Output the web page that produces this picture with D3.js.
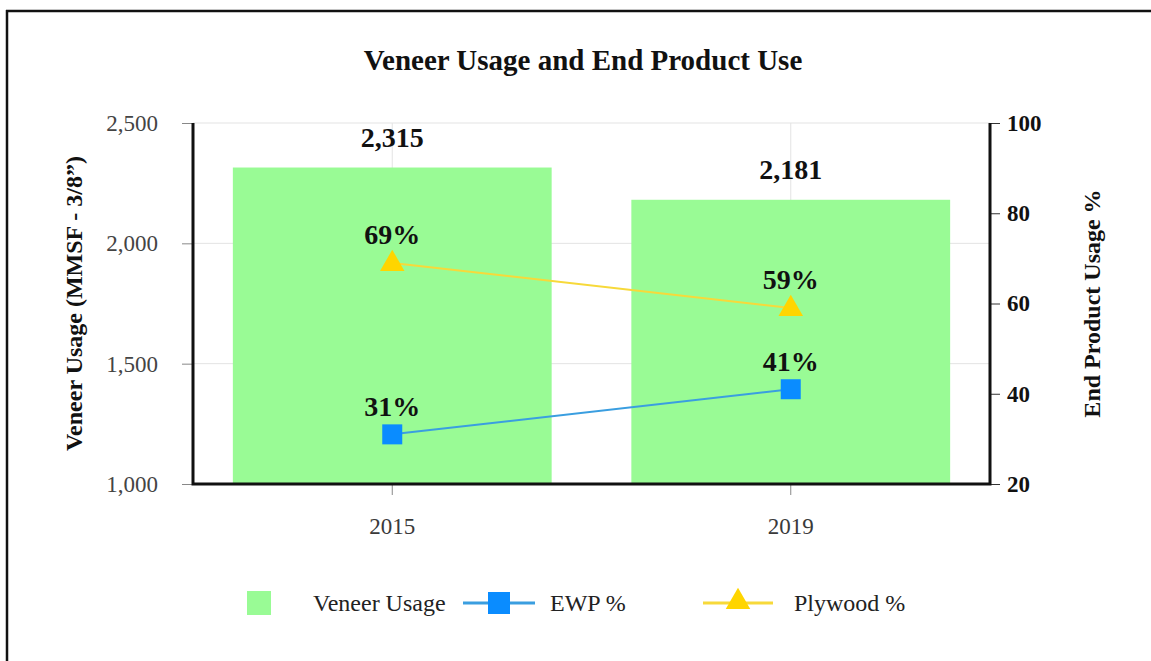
<!DOCTYPE html>
<html>
<head>
<meta charset="utf-8">
<script src="https://cdn.jsdelivr.net/npm/d3@7"></script>
<style>
  body { margin: 0; background: #fff; }
  svg { display: block; font-family: "Liberation Serif", "Times New Roman", serif; }
</style>
</head>
<body>
<svg id="chart" width="1151" height="661"></svg>
<script>
'use strict';

// chart data
var years = ["2015", "2019"];
var veneer_usage = [2315, 2181];
var ewp_pct = [31, 41];
var plywood_pct = [69, 59];

var left_ticks = [1000, 1500, 2000, 2500];
var right_ticks = [20, 40, 60, 80, 100];

var colors = {
    bar: "#99fb95",
    ewp_line: "#3a9ee0",
    ewp_marker: "#0a8cff",
    ply_line: "#f7d93a",
    ply_marker: "#ffd500",
    grid: "#e3e3e3",
    axis: "#111",
    tick: "#888",
};

var width = 1151, height = 661;
var margin = {top: 123, right: 161, bottom: 177, left: 193};

var svg = d3.select("#chart");

// outer frame (only top and left edges show in the original)
svg.append("line").attr("x1", 6).attr("x2", width).attr("y1", 11).attr("y2", 11)
   .attr("stroke", "#111").attr("stroke-width", 2.5);
svg.append("line").attr("x1", 7).attr("x2", 7).attr("y1", 10).attr("y2", height)
   .attr("stroke", "#111").attr("stroke-width", 2.5);

var x0 = margin.left, x1 = width - margin.right;
var y0 = height - margin.bottom, y1 = margin.top;

var x = d3.scaleBand().domain(years).range([x0, x1]).paddingInner(0.2).paddingOuter(0.1);
var yL = d3.scaleLinear().domain([1000, 2500]).range([y0, y1]);
var yR = d3.scaleLinear().domain([20, 100]).range([y0, y1]);

var cx = d => x(d) + x.bandwidth() / 2;

// gridlines
var grid = svg.append("g");
grid.selectAll(".hgrid").data(left_ticks.slice(1)).enter().append("line")
    .attr("x1", x0).attr("x2", x1)
    .attr("y1", d => yL(d)).attr("y2", d => yL(d))
    .attr("stroke", colors.grid).attr("stroke-width", 1);
grid.selectAll(".vgrid").data(years).enter().append("line")
    .attr("x1", cx).attr("x2", cx)
    .attr("y1", y1).attr("y2", y0)
    .attr("stroke", colors.grid).attr("stroke-width", 1);

// bars
svg.selectAll(".bar").data(years).enter().append("rect")
    .attr("x", d => x(d))
    .attr("width", x.bandwidth())
    .attr("y", (d, i) => yL(veneer_usage[i]))
    .attr("height", (d, i) => y0 - yL(veneer_usage[i]))
    .attr("fill", colors.bar);

// left axis
var axL = svg.append("g").attr("transform", "translate(" + x0 + ",0)")
    .call(d3.axisLeft(yL).tickValues(left_ticks).tickFormat(d3.format(",")).tickSize(11).tickPadding(24));
axL.select(".domain").remove();
axL.selectAll(".tick line").attr("stroke", colors.tick);
axL.selectAll(".tick text").attr("font-size", 23).attr("fill", "#444")
    .attr("font-family", "Liberation Serif");

// right axis
var axR = svg.append("g").attr("transform", "translate(" + x1 + ",0)")
    .call(d3.axisRight(yR).tickValues(right_ticks).tickSize(10).tickPadding(7));
axR.select(".domain").remove();
axR.selectAll(".tick line").attr("stroke", "#333");
axR.selectAll(".tick text").attr("font-size", 23).attr("font-weight", "bold").attr("fill", "#111")
    .attr("font-family", "Liberation Serif");

// bottom axis
var axB = svg.append("g").attr("transform", "translate(0," + y0 + ")")
    .call(d3.axisBottom(x).tickSize(11).tickPadding(23));
axB.select(".domain").remove();
axB.selectAll(".tick line").attr("stroke", colors.tick);
axB.selectAll(".tick text").attr("font-size", 23).attr("fill", "#3a3a3a")
    .attr("font-family", "Liberation Serif");

// heavy axis lines
svg.append("path")
    .attr("d", "M" + x0 + "," + y1 + "V" + y0 + "H" + x1 + "V" + y1)
    .attr("fill", "none").attr("stroke", colors.axis).attr("stroke-width", 3);

// lines
var line = d3.line().x(d => cx(d[0])).y(d => yR(d[1]));
var ewp = years.map((d, i) => [d, ewp_pct[i]]);
var ply = years.map((d, i) => [d, plywood_pct[i]]);

svg.append("path").datum(ply).attr("d", line)
    .attr("fill", "none").attr("stroke", colors.ply_line).attr("stroke-width", 2);
svg.append("path").datum(ewp).attr("d", line)
    .attr("fill", "none").attr("stroke", colors.ewp_line).attr("stroke-width", 2);

var tri = d3.symbol().type(d3.symbolTriangle).size(260);

svg.selectAll(".ply").data(ply).enter().append("path")
    .attr("d", tri)
    .attr("transform", d => "translate(" + cx(d[0]) + "," + (yR(d[1]) + 1) + ")")
    .attr("fill", colors.ply_marker);
svg.selectAll(".ewp").data(ewp).enter().append("rect")
    .attr("x", d => cx(d[0]) - 10).attr("y", d => yR(d[1]) - 10)
    .attr("width", 20).attr("height", 20)
    .attr("fill", colors.ewp_marker);

// data labels
var lbl = svg.append("g").attr("font-size", 28).attr("font-weight", "bold")
    .attr("fill", "#111").attr("text-anchor", "middle");
lbl.selectAll(".bl").data(years).enter().append("text")
    .attr("x", cx).attr("y", (d, i) => yL(veneer_usage[i]) - 21)
    .text((d, i) => d3.format(",")(veneer_usage[i]));
lbl.selectAll(".pl").data(ply).enter().append("text")
    .attr("x", d => cx(d[0])).attr("y", d => yR(d[1]) - 19)
    .text(d => d[1] + "%");
lbl.selectAll(".el").data(ewp).enter().append("text")
    .attr("x", d => cx(d[0])).attr("y", d => yR(d[1]) - 18)
    .text(d => d[1] + "%");

// title
svg.append("text").attr("x", 583).attr("y", 70).attr("text-anchor", "middle")
    .attr("font-size", 29).attr("font-weight", "bold").attr("fill", "#111")
    .text("Veneer Usage and End Product Use");

// axis titles
svg.append("text").attr("transform", "translate(82," + ((y0 + y1) / 2) + ") rotate(-90)")
    .attr("text-anchor", "middle").attr("font-size", 24).attr("font-weight", "bold").attr("fill", "#111")
    .text("Veneer Usage (MMSF - 3/8\u201D)");
svg.append("text").attr("transform", "translate(1100," + ((y0 + y1) / 2) + ") rotate(-90)")
    .attr("text-anchor", "middle").attr("font-size", 24).attr("font-weight", "bold").attr("fill", "#111")
    .text("End Product Usage %");

// legend
var ly = 603;
var leg = svg.append("g").attr("font-size", 24).attr("fill", "#222");
leg.append("rect").attr("x", 247).attr("y", ly - 12).attr("width", 24).attr("height", 24)
    .attr("fill", colors.bar);
leg.append("text").attr("x", 313).attr("y", ly + 8).text("Veneer Usage");

leg.append("line").attr("x1", 463).attr("x2", 535).attr("y1", ly).attr("y2", ly)
    .attr("stroke", colors.ewp_line).attr("stroke-width", 3);
leg.append("rect").attr("x", 488).attr("y", ly - 11).attr("width", 22).attr("height", 22)
    .attr("fill", colors.ewp_marker);
leg.append("text").attr("x", 550).attr("y", ly + 8).text("EWP %");

leg.append("line").attr("x1", 703).attr("x2", 773).attr("y1", ly).attr("y2", ly)
    .attr("stroke", colors.ply_line).attr("stroke-width", 3);
leg.append("path").attr("d", tri).attr("transform", "translate(738," + (ly - 1) + ")")
    .attr("fill", colors.ply_marker);
leg.append("text").attr("x", 794).attr("y", ly + 8).text("Plywood %");
</script>
</body>
</html>
